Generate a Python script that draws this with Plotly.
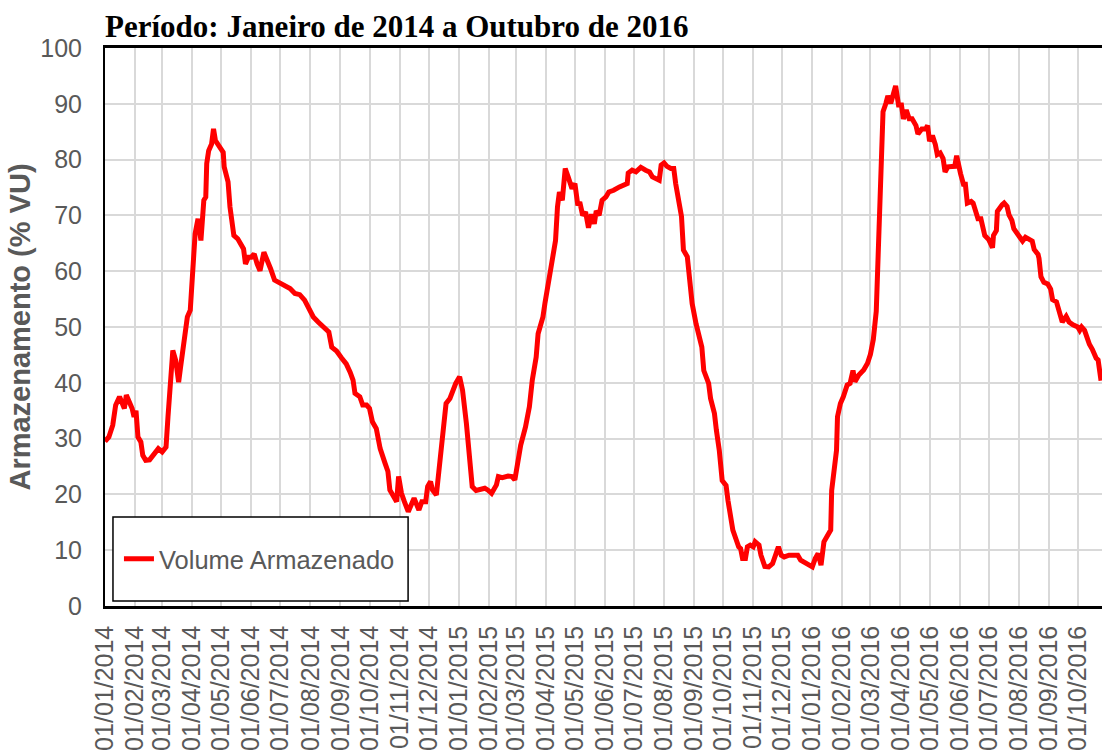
import pandas as pd
import plotly.graph_objects as go

# Days since 01/01/2014 and stored volume (% VU)
days = [
    0, 4, 8, 11, 15, 17, 20, 22, 26, 28, 30, 32, 34, 37, 39, 42, 46, 51, 55, 59,
    63, 65, 68, 70, 73, 76, 78, 81, 83, 85, 88, 90, 91, 93, 96, 97, 99, 102, 104, 105,
    107, 110, 112, 114, 117, 122, 123, 127, 129, 133, 137, 141, 143, 145, 148, 151, 154, 157, 160, 164,
    167, 171, 175, 180, 185, 191, 196,
    201, 206, 210, 215, 220, 225, 231, 234, 239, 244, 249, 253, 256, 258, 263, 266, 270, 273, 276, 280,
    284, 289, 292, 294, 298, 301, 303, 306, 309, 313, 316, 319, 324, 327, 331, 333, 336, 338, 342, 345,
    348, 352, 356, 359, 362, 366, 369, 373, 376, 379, 383, 388, 392, 395, 399, 404, 406, 410, 416, 420, 423,
    429, 434, 438, 441, 445, 447, 449, 452, 454, 457, 460, 463, 465, 467, 469, 472, 475, 478, 482, 485,
    488, 490, 493, 496, 499, 502, 505, 507, 510, 513, 517, 520, 525, 531, 536, 539, 540, 544, 548, 553,
    558, 562, 565, 569, 572, 574, 577, 580, 584, 587, 589,
    595, 597, 601, 604, 606, 610, 613, 616, 618, 623, 625, 629, 631, 634, 637, 641, 643, 646, 648, 651,
    654, 656, 658, 661, 663, 666, 669, 671, 675, 677, 681, 685, 689, 692, 695, 698, 701, 706, 711, 715,
    718, 721, 726, 730, 733, 736, 739, 742, 745, 749, 750, 752, 755, 756, 759, 762, 766, 769, 772, 774,
    778, 783, 787, 790, 793, 796, 798, 800, 801, 803, 806, 808, 811, 813, 816, 819, 822, 824, 827, 830,
    833, 837, 839, 843, 847, 849, 851, 854, 857, 859, 862, 865, 867, 870, 875, 877, 879, 881, 883, 886,
    888, 890, 894, 896, 899, 901, 904, 906, 908, 912, 914, 916, 917, 920, 921, 923, 926, 928, 931, 933,
    936, 938, 942, 944, 947, 950, 954, 957, 959, 963, 964, 966, 969, 973, 976, 978, 982, 985, 988, 992,
    995, 999, 1004, 1006, 1008, 1011, 1013, 1016, 1019, 1021, 1023, 1025, 1027, 1028,
]
volume = [
    29.5, 30.3, 32.4, 36.0, 37.5, 36.6, 35.4, 37.8, 36.3, 35.4, 33.9, 35.0, 30.3, 29.4, 27.0, 26.1, 26.2, 27.3, 28.2, 27.6,
    28.5, 33.9, 41.0, 45.8, 44.0, 40.1, 42.8, 47.0, 50.0, 51.8, 53.0, 57.8, 62.5, 66.7, 69.4, 67.9, 65.5, 72.7, 73.3, 79.3,
    81.6, 82.8, 85.5, 83.4, 82.5, 81.3, 78.7, 76.0, 71.5, 66.4, 65.8, 64.6, 64.0, 61.3, 62.5, 62.5, 63.1, 61.3, 60.1, 63.4,
    62.2, 60.4, 58.4, 58.0, 57.5, 56.9, 56.0,
    55.8, 54.8, 53.3, 51.8, 50.9, 50.0, 49.1, 46.4, 45.7, 44.5, 43.4, 41.9, 40.5, 38.1, 37.5, 36.0, 36.0, 35.4, 33.0, 31.8,
    28.2, 25.6, 24.1, 20.8, 19.6, 18.7, 23.2, 20.2, 18.7, 16.9, 18.1, 19.3, 17.2, 18.7, 18.7, 21.4, 22.3, 20.8, 19.9, 25.0,
    30.3, 36.3, 37.2, 38.7, 39.9, 41.1, 38.7, 32.7, 27.3, 21.4, 20.7, 20.9, 21.1, 20.8, 20.2, 21.7, 23.2, 23.0, 23.3, 23.2, 22.6,
    28.8, 32.1, 35.7, 40.5, 44.6, 48.8, 50.0, 51.8, 54.2, 57.2, 60.2, 62.3, 65.5, 71.5, 74.2, 72.7, 78.4, 76.9, 74.8, 75.7,
    71.8, 72.4, 70.0, 70.6, 67.8, 70.2, 68.5, 70.8, 70.0, 72.7, 73.3, 74.2, 74.5, 75.1, 75.4, 75.7, 77.6, 78.1, 77.8, 78.6,
    78.1, 77.8, 76.9, 76.6, 76.3, 79.0, 79.4, 78.8, 78.4, 78.4, 75.7,
    69.8, 63.8, 62.6, 57.8, 54.2, 50.6, 48.2, 46.4, 42.2, 39.9, 37.2, 34.5, 31.5, 27.9, 22.5, 21.6, 18.9, 15.4, 13.6, 12.1,
    10.6, 10.3, 8.5, 8.5, 10.6, 10.9, 10.6, 11.5, 10.9, 9.1, 7.1, 7.0, 7.6, 9.1, 10.6, 9.1, 8.8, 9.1, 9.2, 9.1,
    8.2, 7.9, 7.6, 7.0, 8.5, 9.4, 7.3, 11.5, 12.4, 13.6, 20.7, 24.3, 27.9, 33.9, 36.3, 37.5, 39.6, 39.9, 42.2, 40.2,
    41.4, 42.3, 43.5, 45.1, 47.8, 52.8, 62.0, 71.3, 80.6, 88.6, 90.1, 91.4, 90.1, 91.7, 93.2, 89.8, 89.8, 87.3, 88.9, 87.3,
    87.3, 86.1, 84.6, 85.5, 85.5, 86.1, 83.3, 84.3, 82.7, 80.9, 81.2, 80.2, 77.8, 78.7, 78.7, 78.8, 80.7, 78.7, 77.5, 75.6,
    75.6, 72.2, 72.5, 72.2, 70.7, 69.4, 69.4, 67.9, 66.4, 65.7, 65.1, 64.2, 66.4, 67.3, 70.7, 71.3, 71.9, 72.2, 71.6, 70.1,
    69.1, 67.6, 66.7, 66.4, 65.4, 66.1, 65.7, 65.4, 63.9, 63.0, 62.3, 59.0, 58.0, 57.7, 56.8, 54.9, 54.5, 52.8, 50.9, 51.9,
    50.9, 50.4, 50.0, 49.4, 50.0, 49.4, 48.1, 46.9, 46.0, 45.1, 44.4, 44.1, 42.0, 40.4,
]

start_date = "2014-01-01"
end_date = "2016-10-26"
series_name = "Volume Armazenado"
title_text = "<b>Período: Janeiro de 2014 a Outubro de 2016</b>"
y_title = "<b>Armazenamento (% VU)</b>"

dates = pd.Timestamp(start_date) + pd.to_timedelta(days, unit="D")

GRAY = "#595959"
GRID = "#d9d9d9"
SANS = "Liberation Sans, Arial, sans-serif"

fig = go.Figure()
fig.add_trace(go.Scatter(
    x=dates, y=volume, mode="lines", name=series_name,
    line=dict(color="#ff0000", width=5),
))

fig.update_layout(
    width=1102, height=754,
    margin=dict(l=105, r=0, t=48, b=148, autoexpand=False),
    paper_bgcolor="white", plot_bgcolor="white",
    title=dict(
        text=title_text, xref="paper", x=0, xanchor="left",
        yref="container", y=1 - 26 / 754, yanchor="middle",
        font=dict(family="Liberation Serif, Times New Roman, serif", size=31, color="black"),
    ),
    showlegend=True,
    legend=dict(
        x=0.014, xanchor="left", y=0.084, yanchor="middle",
        bgcolor="rgba(0,0,0,0)", borderwidth=0,
        font=dict(family=SANS, size=25.5, color=GRAY),
    ),
    shapes=[dict(
        type="rect", xref="paper", yref="paper",
        x0=0.008, x1=0.304, y0=0.009, y1=0.1595,
        line=dict(color="black", width=1.5), fillcolor="white", layer="above",
    )],
)

fig.update_xaxes(
    type="date", range=[start_date, end_date],
    tick0=start_date, dtick="M1", tickformat="%d/%m/%Y", tickangle=-90,
    tickfont=dict(family=SANS, size=25, color=GRAY), ticklabelstandoff=7,
    showgrid=True, gridcolor=GRID, gridwidth=1.5,
    showline=True, linecolor="black", linewidth=2.5, mirror=True,
    ticks="", automargin=False, zeroline=False,
)
fig.update_yaxes(
    range=[0, 100], dtick=10, tick0=0,
    tickfont=dict(family=SANS, size=25, color=GRAY), ticklabelstandoff=16,
    showgrid=True, gridcolor=GRID, gridwidth=1.5,
    showline=True, linecolor="black", linewidth=2,
    ticks="", automargin=False, zeroline=False,
    title=dict(text=y_title, font=dict(family=SANS, size=29, color=GRAY), standoff=1),
)

fig.write_html(
    "out.html",
    config={"displayModeBar": False},
    post_script="document.body.style.margin='0';document.body.style.overflow='hidden';",
)
